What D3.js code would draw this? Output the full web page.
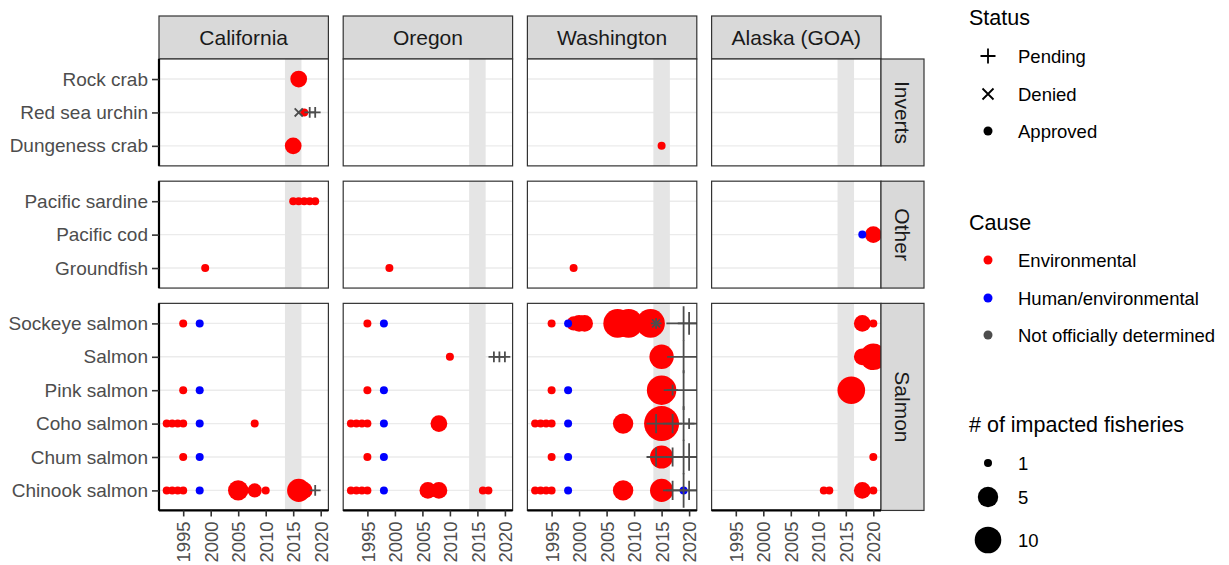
<!DOCTYPE html>
<html><head><meta charset="utf-8">
<script src="https://cdn.jsdelivr.net/npm/d3@7"></script>
<style>
body{margin:0;background:#fff}
svg{display:block}
text{font-family:"Liberation Sans",Arial,Helvetica,sans-serif}
</style>
</head><body>
<svg id="chart" width="1229" height="565"></svg>
<script>
// ---------- data ----------
const regions = ["California","Oregon","Washington","Alaska (GOA)"];
const groups = ["Inverts","Other","Salmon"];
const invertSpecies = ["Rock crab","Red sea urchin","Dungeness crab"];
const otherSpecies = ["Pacific sardine","Pacific cod","Groundfish"];
const salmonSpecies = ["Sockeye salmon","Salmon","Pink salmon","Coho salmon","Chum salmon","Chinook salmon"];
const yearTicks = [1995,2000,2005,2010,2015,2020];
const yearDomain = [1990.6, 2021.4];
const heatwaveYears = [2013.5, 2016.5];
const statusLabels = ["Pending","Denied","Approved"];
const causeLabels = ["Environmental","Human/environmental","Not officially determined"];
const causeColors = ["#FF0000","#0000FF","#4D4D4D"];
const sizeBreaks = [1,5,10];

// [species, year, impacted fisheries, cause (E/H/N), status (A/P/D)]
const californiaEvents = [
  ["Rock crab",2016,3,"E","A"],
  ["Red sea urchin",2016,1,"N","D"],
  ["Red sea urchin",2017,1,"E","A"],
  ["Red sea urchin",2018,1,"N","P"],
  ["Red sea urchin",2019,1,"N","P"],
  ["Dungeness crab",2015,3,"E","A"],
  ["Pacific sardine",2015,1,"E","A"],["Pacific sardine",2016,1,"E","A"],["Pacific sardine",2017,1,"E","A"],
  ["Pacific sardine",2018,1,"E","A"],["Pacific sardine",2019,1,"E","A"],
  ["Groundfish",1999,1,"E","A"],
  ["Sockeye salmon",1995,1,"E","A"],["Sockeye salmon",1998,1,"H","A"],
  ["Pink salmon",1995,1,"E","A"],["Pink salmon",1998,1,"H","A"],
  ["Coho salmon",1992,1,"E","A"],["Coho salmon",1993,1,"E","A"],["Coho salmon",1994,1,"E","A"],["Coho salmon",1995,1,"E","A"],
  ["Coho salmon",1998,1,"H","A"],["Coho salmon",2008,1,"E","A"],
  ["Chum salmon",1995,1,"E","A"],["Chum salmon",1998,1,"H","A"],
  ["Chinook salmon",1992,1,"E","A"],["Chinook salmon",1993,1,"E","A"],["Chinook salmon",1994,1,"E","A"],["Chinook salmon",1995,1,"E","A"],
  ["Chinook salmon",1998,1,"H","A"],["Chinook salmon",2005,5,"E","A"],["Chinook salmon",2008,2,"E","A"],
  ["Chinook salmon",2010,1,"E","A"],["Chinook salmon",2016,7,"E","A"],["Chinook salmon",2017,3,"E","A"],
  ["Chinook salmon",2019,1,"N","P"]
];
const oregonEvents = [
  ["Groundfish",1999,1,"E","A"],
  ["Sockeye salmon",1995,1,"E","A"],["Sockeye salmon",1998,1,"H","A"],
  ["Salmon",2010,1,"E","A"],["Salmon",2018,1,"N","P"],["Salmon",2019,1,"N","P"],["Salmon",2020,1,"N","P"],
  ["Pink salmon",1995,1,"E","A"],["Pink salmon",1998,1,"H","A"],
  ["Coho salmon",1992,1,"E","A"],["Coho salmon",1993,1,"E","A"],["Coho salmon",1994,1,"E","A"],["Coho salmon",1995,1,"E","A"],
  ["Coho salmon",1998,1,"H","A"],["Coho salmon",2008,3,"E","A"],
  ["Chum salmon",1995,1,"E","A"],["Chum salmon",1998,1,"H","A"],
  ["Chinook salmon",1992,1,"E","A"],["Chinook salmon",1993,1,"E","A"],["Chinook salmon",1994,1,"E","A"],["Chinook salmon",1995,1,"E","A"],
  ["Chinook salmon",1998,1,"H","A"],["Chinook salmon",2006,3,"E","A"],["Chinook salmon",2008,3,"E","A"],
  ["Chinook salmon",2016,1,"E","A"],["Chinook salmon",2017,1,"E","A"]
];
const washingtonEvents = [
  ["Dungeness crab",2015,1,"E","A"],
  ["Groundfish",1999,1,"E","A"],
  ["Sockeye salmon",1995,1,"E","A"],["Sockeye salmon",1998,1,"H","A"],
  ["Sockeye salmon",1999,2,"E","A"],["Sockeye salmon",2000,3,"E","A"],["Sockeye salmon",2001,3,"E","A"],
  ["Sockeye salmon",2007,12,"E","A"],["Sockeye salmon",2008,10,"E","A"],["Sockeye salmon",2009,12,"E","A"],
  ["Sockeye salmon",2013,12,"E","A"],
  ["Sockeye salmon",2014,1,"N","D"],["Sockeye salmon",2014,1,"N","P"],
  ["Sockeye salmon",2019,9,"N","P"],["Sockeye salmon",2020,3,"N","P"],
  ["Salmon",2015,8,"E","A"],["Salmon",2019,8,"N","P"],
  ["Pink salmon",1995,1,"E","A"],["Pink salmon",1998,1,"H","A"],["Pink salmon",2015,13,"E","A"],
  ["Pink salmon",2017,1,"N","P"],["Pink salmon",2019,13,"N","P"],
  ["Coho salmon",1992,1,"E","A"],["Coho salmon",1993,1,"E","A"],["Coho salmon",1994,1,"E","A"],["Coho salmon",1995,1,"E","A"],
  ["Coho salmon",1998,1,"H","A"],["Coho salmon",2008,5,"E","A"],["Coho salmon",2015,20,"E","A"],
  ["Coho salmon",2014,2,"N","P"],["Coho salmon",2017,2,"N","P"],["Coho salmon",2019,9,"N","P"],["Coho salmon",2020,1,"N","P"],
  ["Chum salmon",1995,1,"E","A"],["Chum salmon",1998,1,"H","A"],["Chum salmon",2015,7,"E","A"],
  ["Chum salmon",2014,2,"N","P"],["Chum salmon",2017,2,"N","P"],["Chum salmon",2019,9,"N","P"],["Chum salmon",2020,5,"N","P"],
  ["Chinook salmon",1992,1,"E","A"],["Chinook salmon",1993,1,"E","A"],["Chinook salmon",1994,1,"E","A"],["Chinook salmon",1995,1,"E","A"],
  ["Chinook salmon",1998,1,"H","A"],["Chinook salmon",2008,5,"E","A"],["Chinook salmon",2015,7,"E","A"],
  ["Chinook salmon",2019,1,"H","A"],
  ["Chinook salmon",2017,2,"N","P"],["Chinook salmon",2019,9,"N","P"],["Chinook salmon",2020,2,"N","P"]
];
const alaskaEvents = [
  ["Pacific cod",2018,1,"H","A"],["Pacific cod",2020,3,"E","A"],
  ["Sockeye salmon",2018,3,"E","A"],["Sockeye salmon",2020,1,"E","A"],
  ["Salmon",2018,3,"E","A"],["Salmon",2020,10,"E","A"],
  ["Pink salmon",2016,11,"E","A"],
  ["Chum salmon",2020,1,"E","A"],
  ["Chinook salmon",2011,1,"E","A"],["Chinook salmon",2012,1,"E","A"],["Chinook salmon",2018,3,"E","A"],["Chinook salmon",2020,1,"E","A"]
];

// ---------- setup ----------
const eventsByRegion = [californiaEvents, oregonEvents, washingtonEvents, alaskaEvents];
const speciesByGroup = [invertSpecies, otherSpecies, salmonSpecies];
const causeCodes = ["E","H","N"];
const colorScale = d3.scaleOrdinal().domain(causeCodes).range(causeColors);
const sizeScale = d3.scaleSqrt().domain([0, 9]).range([4, 13.3]);
const radius = n => sizeScale(n - 1);
const armFactor = 1.35;

const svg = d3.select("#chart");
const FONT = '"Liberation Sans",Arial,Helvetica,sans-serif';

const panelW = 169.4, gapX = 14.8, left0 = 159;
const top0 = 59, unit = 33.4, gapY = 15.3;
const stripH = 43;
const rowHeights = speciesByGroup.map(s => (s.length - 1 + 1.2) * unit);
const rowTops = [];
{ let t = top0; rowHeights.forEach(h => { rowTops.push(t); t += h + gapY; }); }
const colLefts = regions.map((r, i) => left0 + i * (panelW + gapX));
const bottomY = rowTops[2] + rowHeights[2];

const defs = svg.append("defs");

function speciesGroup(sp) {
  return speciesByGroup.findIndex(list => list.includes(sp));
}

function plusPath(x, y, a) { return `M${x - a},${y}H${x + a}M${x},${y - a}V${y + a}`; }
function crossPath(x, y, d) { return `M${x - d},${y - d}L${x + d},${y + d}M${x - d},${y + d}L${x + d},${y - d}`; }

regions.forEach((region, ci) => {
  const x0 = colLefts[ci];
  const xScale = d3.scaleLinear().domain(yearDomain).range([x0, x0 + panelW]);

  // top strip
  svg.append("rect").attr("x", x0).attr("y", top0 - stripH).attr("width", panelW).attr("height", stripH)
    .attr("fill", "#D9D9D9").attr("stroke", "#333333").attr("stroke-width", 1.2);
  svg.append("text").attr("x", x0 + panelW / 2).attr("y", top0 - stripH / 2).attr("dy", "0.36em")
    .attr("text-anchor", "middle").attr("font-size", 21).attr("fill", "#1A1A1A").text(region);

  groups.forEach((grp, gi) => {
    const species = speciesByGroup[gi];
    const yTop = rowTops[gi], h = rowHeights[gi];
    const yScale = d3.scalePoint().domain(species).range([yTop, yTop + h]).padding(0.6);
    const clipId = `clip-${ci}-${gi}`;
    defs.append("clipPath").attr("id", clipId).append("rect")
      .attr("x", x0).attr("y", yTop).attr("width", panelW).attr("height", h);

    const g = svg.append("g");
    g.append("rect").attr("x", x0).attr("y", yTop).attr("width", panelW).attr("height", h).attr("fill", "#fff");
    // horizontal grid
    g.selectAll(".grid").data(species).join("line")
      .attr("x1", x0).attr("x2", x0 + panelW)
      .attr("y1", d => yScale(d)).attr("y2", d => yScale(d))
      .attr("stroke", "#EBEBEB").attr("stroke-width", 1.4);
    // heatwave band
    g.append("rect").attr("x", xScale(heatwaveYears[0])).attr("y", yTop)
      .attr("width", xScale(heatwaveYears[1]) - xScale(heatwaveYears[0])).attr("height", h)
      .attr("fill", "#E5E5E5");

    const evs = eventsByRegion[ci].filter(e => speciesGroup(e[0]) === gi);
    const pg = g.append("g").attr("clip-path", `url(#${clipId})`);
    const approved = evs.filter(e => e[4] === "A");
    const ordered = approved.filter(e => e[3] === "E").concat(approved.filter(e => e[3] !== "E"));
    pg.selectAll("circle").data(ordered).join("circle")
      .attr("cx", d => xScale(d[1])).attr("cy", d => yScale(d[0]))
      .attr("r", d => radius(d[2])).attr("fill", d => colorScale(d[3]));
    const others = evs.filter(e => e[4] !== "A");
    pg.selectAll("path").data(others).join("path")
      .attr("d", d => {
        const x = xScale(d[1]), y = yScale(d[0]), a = radius(d[2]) * armFactor;
        return d[4] === "P" ? plusPath(x, y, a) : crossPath(x, y, a * 0.75);
      })
      .attr("fill", "none").attr("stroke", d => colorScale(d[3])).attr("stroke-width", 1.8);

    // panel border
    g.append("rect").attr("x", x0).attr("y", yTop).attr("width", panelW).attr("height", h)
      .attr("fill", "none").attr("stroke", "#333333").attr("stroke-width", 1.2);

    // y axis on first column
    if (ci === 0) {
      const ax = svg.append("g").attr("transform", `translate(${x0},0)`)
        .call(d3.axisLeft(yScale).tickSize(7).tickPadding(4));
      ax.select(".domain").attr("stroke", "#000").attr("stroke-width", 2.2)
        .attr("d", `M0,${yTop}V${yTop + h}`);
      ax.selectAll(".tick line").attr("stroke", "#333").attr("stroke-width", 1.6);
      ax.selectAll(".tick text").attr("font-size", 19).attr("fill", "#4D4D4D").attr("font-family", FONT);
    }
    // right strip on last column
    if (ci === regions.length - 1) {
      const sx = x0 + panelW;
      svg.append("rect").attr("x", sx).attr("y", yTop).attr("width", stripH).attr("height", h)
        .attr("fill", "#D9D9D9").attr("stroke", "#333333").attr("stroke-width", 1.2);
      svg.append("text").attr("transform", `translate(${sx + stripH / 2},${yTop + h / 2}) rotate(90)`)
        .attr("dy", "0.36em").attr("text-anchor", "middle").attr("font-size", 21).attr("fill", "#1A1A1A").text(grp);
    }
  });

  // bottom x axis
  const xa = svg.append("g").attr("transform", `translate(0,${bottomY})`)
    .call(d3.axisBottom(xScale).tickValues(yearTicks).tickFormat(d3.format("d")).tickSize(6).tickPadding(4));
  xa.select(".domain").attr("stroke", "#000").attr("stroke-width", 2.2).attr("d", `M${x0},0H${x0 + panelW}`);
  xa.selectAll(".tick line").attr("stroke", "#333").attr("stroke-width", 1.6);
  xa.selectAll(".tick text").attr("font-size", 18.5).attr("fill", "#4D4D4D").attr("font-family", FONT)
    .attr("transform", "rotate(-90)").attr("text-anchor", "end")
    .attr("x", -11).attr("y", 0).attr("dy", "0.36em");
});

// ---------- legends ----------
const lg = svg.append("g").attr("font-family", FONT);
const keyX = 988, labX = 1018, titleX = 969;
function title(y, t) {
  lg.append("text").attr("x", titleX).attr("y", y).attr("font-size", 21.5).attr("fill", "#000").text(t);
}
function label(y, t) {
  lg.append("text").attr("x", labX).attr("y", y).attr("dy", "0.36em").attr("font-size", 18.5).attr("fill", "#000").text(t);
}
// Status
title(25, "Status");
const statusY = [56, 94, 131];
lg.append("path").attr("d", plusPath(keyX, statusY[0], 7.5)).attr("stroke", "#000").attr("stroke-width", 1.8).attr("fill", "none");
lg.append("path").attr("d", crossPath(keyX, statusY[1], 5.5)).attr("stroke", "#000").attr("stroke-width", 1.8).attr("fill", "none");
lg.append("circle").attr("cx", keyX).attr("cy", statusY[2]).attr("r", 4.5).attr("fill", "#000");
statusLabels.forEach((s, i) => label(statusY[i], s));
// Cause
title(230, "Cause");
const causeY = [260, 298, 335];
causeLabels.forEach((c, i) => {
  lg.append("circle").attr("cx", keyX).attr("cy", causeY[i]).attr("r", 4.5).attr("fill", colorScale(causeCodes[i]));
  label(causeY[i], c);
});
// Size
title(432, "# of impacted fisheries");
const sizeY = [463, 497, 540];
sizeBreaks.forEach((s, i) => {
  lg.append("circle").attr("cx", keyX).attr("cy", sizeY[i]).attr("r", radius(s)).attr("fill", "#000");
  label(sizeY[i], String(s));
});
</script>
</body></html>
